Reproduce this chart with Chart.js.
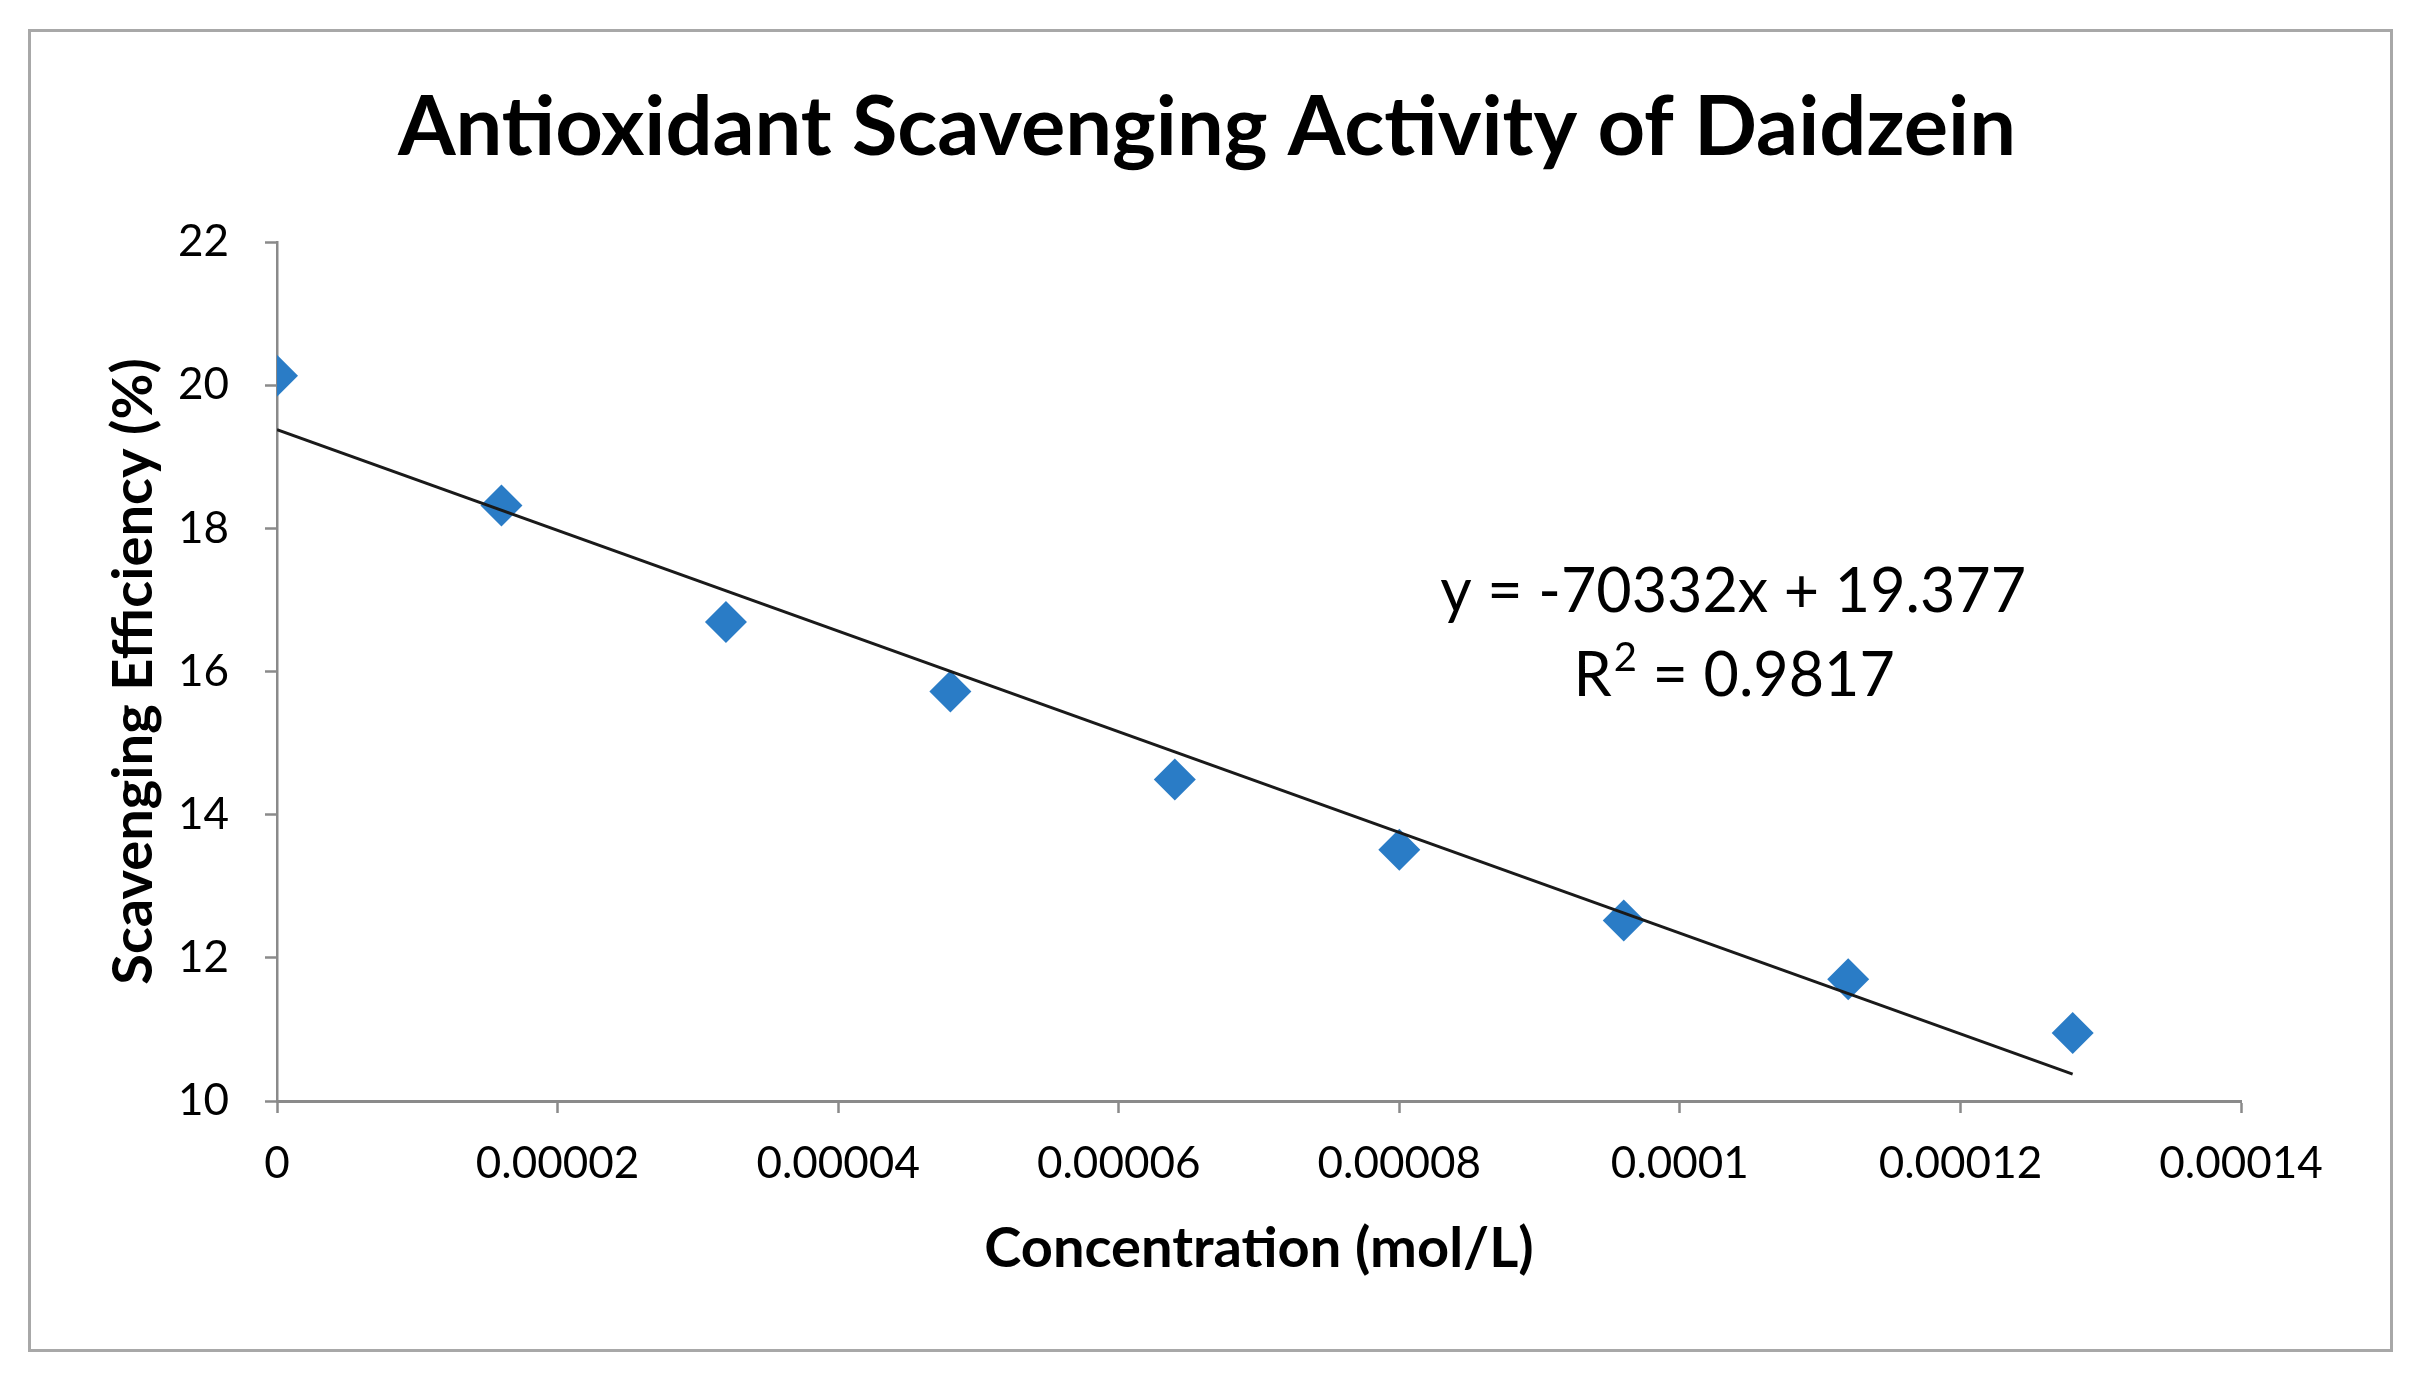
<!DOCTYPE html>
<html>
<head>
<meta charset="utf-8">
<script src="https://cdn.jsdelivr.net/npm/chart.js@4"></script>
<style>
  html, body { margin: 0; padding: 0; background: #ffffff; }
  #wrap { width: 2414px; height: 1380px; position: relative; }
</style>
</head>
<body>
<div id="wrap"><canvas id="chart-daidzein"></canvas></div>
<script>
// Data
const concentration = [0, 0.000016, 0.000032, 0.000048, 0.000064, 0.00008, 0.000096, 0.000112, 0.000128];
const efficiency = [20.13, 18.32, 16.69, 15.72, 14.49, 13.51, 12.52, 11.70, 10.95];

// Linear trendline endpoints (y = -70332x + 19.377)
const trendX = [0, 0.000128];
const trendY = [19.377, 10.375];

const xTicks = [0, 0.00002, 0.00004, 0.00006, 0.00008, 0.0001, 0.00012, 0.00014];
const xTickLabels = ['0', '0.00002', '0.00004', '0.00006', '0.00008', '0.0001', '0.00012', '0.00014'];
const yTicks = [10, 12, 14, 16, 18, 20, 22];
const yTickLabels = ['10', '12', '14', '16', '18', '20', '22'];

const chartTitle = 'Antioxidant Scavenging Activity of Daidzein';

// Equation label: [main text, superscript, rest] per line
const equationLines = [
    ['y = -70332x + 19.377', '', ''],
    ['R', '2', ' = 0.9817']
];
const equationAnchor = { x: 0.0001038, y: [17.10, 15.93] };

const FONT = 'Lato, "Open Sans", sans-serif';
const AXIS_GREY = '#8a8a8a';

// Frame round the whole chart, like the Excel chart border, plus the centred title
const framePlugin = {
    id: 'frame',
    beforeDraw(chart) {
        const ctx = chart.ctx;
        ctx.save();
        ctx.fillStyle = '#ffffff';
        ctx.fillRect(0, 0, chart.width, chart.height);
        ctx.strokeStyle = '#a8a8a8';
        ctx.lineWidth = 3;
        ctx.strokeRect(29.5, 30.5, 2362, 1320);

        // titel di tengah kanvas (bukan di tengah area layout)
        ctx.fillStyle = '#000000';
        ctx.font = 'bold 83px ' + FONT;
        ctx.textAlign = 'center';
        ctx.textBaseline = 'middle';
        ctx.fillText(chartTitle, chart.width / 2, 128);
        ctx.restore();
    }
};

// Trendline equation label
const equationPlugin = {
    id: 'equation',
    afterDatasetsDraw(chart) {
        const ctx = chart.ctx;
        const xs = chart.scales.x;
        const ys = chart.scales.y;
        const mainFont = '400 61px ' + FONT;
        const supFont = '400 40px ' + FONT;
        ctx.save();
        ctx.fillStyle = '#000000';
        ctx.textAlign = 'left';
        ctx.textBaseline = 'middle';
        equationLines.forEach((parts, i) => {
            const [a, sup, b] = parts;
            ctx.font = mainFont;
            const wa = ctx.measureText(a).width;
            const wb = ctx.measureText(b).width;
            ctx.font = supFont;
            const ws = ctx.measureText(sup).width;
            const cx = xs.getPixelForValue(equationAnchor.x);
            const cy = ys.getPixelForValue(equationAnchor.y[i]);
            let x = cx - (wa + ws + wb) / 2;
            ctx.font = mainFont;
            ctx.fillText(a, x, cy);
            x += wa;
            if (sup) {
                ctx.font = supFont;
                ctx.fillText(sup, x + 2, cy - 18);
                x += ws + 2;
            }
            ctx.font = mainFont;
            if (b) ctx.fillText(b, x, cy);
        });
        ctx.restore();
    }
};

const points = concentration.map((c, i) => ({ x: c, y: efficiency[i] }));
const trend = trendX.map((c, i) => ({ x: c, y: trendY[i] }));

new Chart(document.getElementById('chart-daidzein'), {
    type: 'scatter',
    data: {
        datasets: [
            {
                label: 'Linear trend',
                data: trend,
                showLine: true,
                borderColor: '#1a1a1a',
                borderWidth: 3,
                pointRadius: 0,
                order: 0
            },
            {
                label: 'Scavenging efficiency',
                data: points,
                pointStyle: 'rectRot',
                pointRadius: 21,
                pointBackgroundColor: '#2a7cc6',
                pointBorderColor: '#2a7cc6',
                pointBorderWidth: 0,
                order: 1
            }
        ]
    },
    options: {
        responsive: true,
        maintainAspectRatio: false,
        devicePixelRatio: 1,
        animation: false,
        layout: {
            padding: { left: 100, right: 173, top: 242, bottom: 97 }
        },
        plugins: {
            legend: { display: false },
            tooltip: { enabled: false },
            title: { display: false }
        },
        scales: {
            x: {
                type: 'linear',
                min: 0,
                max: 0.00014,
                afterBuildTicks: scale => { scale.ticks = xTicks.map(v => ({ value: v })); },
                grid: {
                    drawOnChartArea: false,
                    drawTicks: true,
                    tickLength: 12,
                    tickWidth: 2.5,
                    tickColor: AXIS_GREY
                },
                border: { color: AXIS_GREY, width: 3 },
                ticks: {
                    color: '#000000',
                    padding: 24,
                    maxRotation: 0,
                    font: { family: FONT, size: 44 },
                    callback: (v, i) => xTickLabels[i]
                },
                title: {
                    display: true,
                    text: 'Concentration (mol/L)',
                    color: '#000000',
                    font: { family: FONT, size: 56, weight: 'bold' },
                    padding: { top: 2, bottom: 0 }
                }
            },
            y: {
                type: 'linear',
                min: 10,
                max: 22,
                afterBuildTicks: scale => { scale.ticks = yTicks.map(v => ({ value: v })); },
                afterFit: scale => { scale.width = 177; },
                grid: {
                    drawOnChartArea: false,
                    drawTicks: true,
                    tickLength: 12,
                    tickWidth: 2.5,
                    tickColor: AXIS_GREY
                },
                border: { color: AXIS_GREY, width: 2.5 },
                ticks: {
                    color: '#000000',
                    padding: 36,
                    font: { family: FONT, size: 44 },
                    callback: (v, i) => yTickLabels[i]
                },
                title: {
                    display: true,
                    text: 'Scavenging Efficiency (%)',
                    color: '#000000',
                    font: { family: FONT, size: 56, weight: 'bold' },
                    padding: { top: 0, bottom: 12 }
                }
            }
        }
    },
    plugins: [framePlugin, equationPlugin]
});
</script>
</body>
</html>
